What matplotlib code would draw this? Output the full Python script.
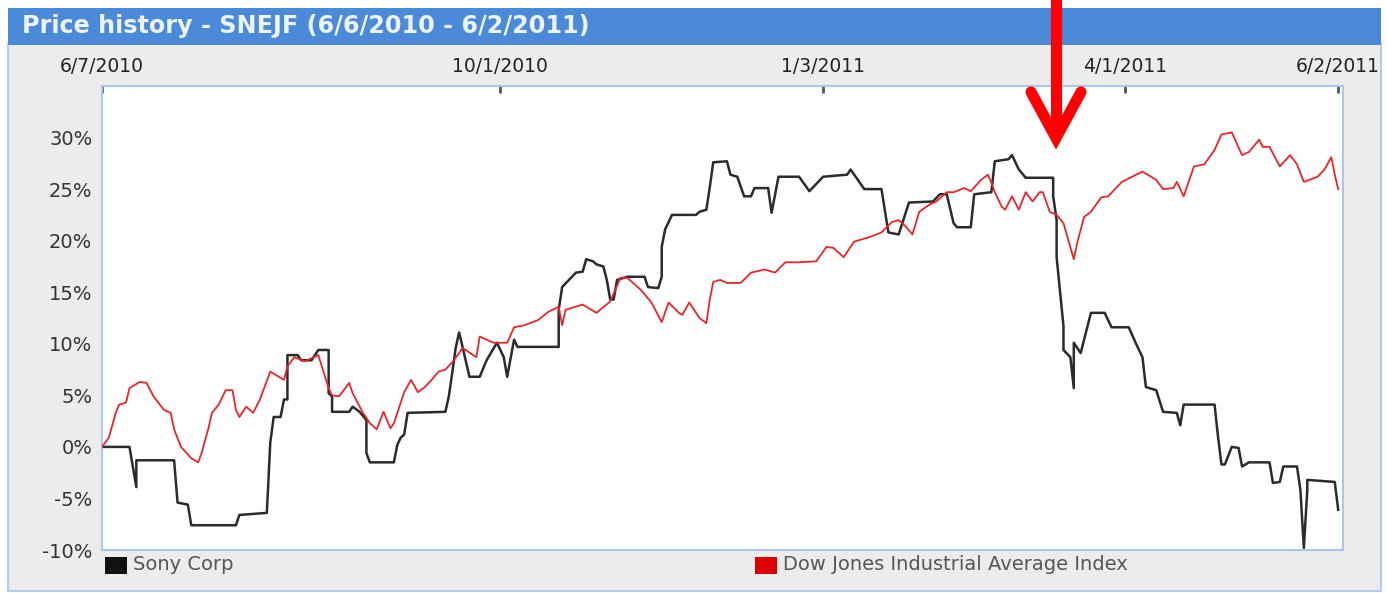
import numpy as np
import matplotlib
matplotlib.use("Agg")
import matplotlib.pyplot as plt
import matplotlib.dates as mdates
from matplotlib.patches import Rectangle
from matplotlib.lines import Line2D

# ---------------- data ----------------
base_date = np.datetime64("2010-06-07")

title = "Price history - SNEJF (6/6/2010 - 6/2/2011)"
tick_dates = ["2010-06-07", "2010-10-01", "2011-01-03", "2011-04-01", "2011-06-02"]
tick_labels = ["6/7/2010", "10/1/2010", "1/3/2011", "4/1/2011", "6/2/2011"]
y_ticks = [-10, -5, 0, 5, 10, 15, 20, 25, 30]
series_names = ["Sony Corp", "Dow Jones Industrial Average Index"]

# Sony Corp: days since 2010-06-07, % change
sony_day = [0, 8, 10, 10, 21, 22, 25, 26, 39, 40, 48, 49, 50, 52, 53, 54, 54, 57, 58, 61,
            63, 66, 66, 67, 67, 72, 73, 75, 77, 77, 78, 85, 86, 87, 88, 89, 100, 101, 102, 103,
            104, 105, 107, 110, 112, 115, 117, 118, 120, 121, 133, 133, 134, 136, 138, 140, 141, 143, 144, 146,
            147, 148, 149, 150, 153, 158, 159, 162, 163, 163, 164, 166, 173, 174, 176, 177, 178, 182, 183, 185,
            187, 189, 190, 194, 195, 197, 203, 206, 210, 217, 218, 222, 227, 229, 232, 235, 242, 244, 246, 248,
            249, 253, 254, 259, 260, 264, 265, 267, 269, 277, 277, 278, 278, 280, 280, 282, 283, 283, 285, 288,
            292, 294, 299, 301, 303, 304, 307, 309, 313, 314, 315, 324, 325, 326, 327, 329, 331, 332, 334, 340,
            341, 343, 344, 348, 349, 350, 351, 351, 359, 360]
sony_pct = [0.0, 0.0, -3.9, -1.3, -1.3, -5.4, -5.6, -7.6, -7.6, -6.6, -6.4, 0.4, 2.9, 2.9, 4.6, 4.6, 8.9, 8.9, 8.4, 8.4,
            9.4, 9.4, 5.2, 4.9, 3.4, 3.4, 3.9, 3.4, 2.6, -0.6, -1.5, -1.5, 0.2, 0.9, 1.2, 3.3, 3.4, 4.9, 7.2, 9.6,
            11.1, 9.7, 6.8, 6.8, 8.4, 10.1, 8.7, 6.8, 10.4, 9.7, 9.7, 13.3, 15.5, 16.2, 16.9, 17.0, 18.2, 18.0, 17.7, 17.5,
            16.2, 14.3, 14.3, 16.2, 16.5, 16.5, 15.5, 15.4, 16.5, 19.4, 21.1, 22.5, 22.5, 22.8, 23.0, 25.2, 27.6, 27.7, 26.4, 26.2,
            24.3, 24.3, 25.1, 25.1, 22.7, 26.2, 26.2, 24.8, 26.2, 26.4, 26.9, 25.0, 25.0, 20.8, 20.6, 23.7, 23.8, 24.5, 24.5, 21.7,
            21.3, 21.3, 24.5, 24.7, 27.7, 27.9, 28.3, 26.9, 26.1, 26.1, 24.3, 22.0, 18.4, 11.7, 9.4, 8.7, 5.7, 10.1, 9.1, 13.0,
            13.0, 11.6, 11.6, 10.1, 8.7, 5.8, 5.5, 3.4, 3.3, 2.1, 4.1, 4.1, 1.0, -1.7, -1.7, 0.0, -0.1, -1.9, -1.5, -1.5,
            -3.5, -3.4, -1.9, -1.9, -4.2, -9.8, -4.2, -3.2, -3.4, -6.1]

# Dow Jones Industrial Average Index: days since 2010-06-07, % change
djia_day = [0, 2, 4, 5, 7, 8, 11, 13, 15, 18, 20, 21, 23, 26, 28, 29, 31, 32, 34, 36,
            38, 39, 40, 42, 44, 46, 47, 49, 53, 54, 56, 59, 61, 63, 66, 67, 69, 72, 73, 76,
            78, 80, 82, 84, 85, 88, 90, 92, 94, 96, 98, 100, 102, 104, 105, 109, 110, 114, 118, 120,
            123, 127, 130, 133, 134, 135, 140, 144, 148, 151, 153, 157, 160, 163, 165, 168, 169, 171, 173, 174,
            176, 177, 178, 180, 182, 186, 189, 193, 196, 199, 203, 208, 211, 213, 216, 219, 224, 227, 230, 232,
            234, 236, 238, 241, 243, 246, 248, 251, 253, 256, 258, 259, 260, 262, 263, 265, 267, 269, 271, 273,
            274, 276, 278, 280, 283, 284, 286, 288, 291, 293, 297, 300, 303, 307, 309, 312, 313, 315, 318, 321,
            324, 326, 329, 332, 334, 337, 338, 340, 343, 346, 348, 350, 354, 356, 358, 359, 360]
djia_pct = [0.0, 0.9, 3.3, 4.1, 4.3, 5.7, 6.3, 6.2, 4.9, 3.6, 3.3, 1.7, 0.0, -1.1, -1.5, -0.6, 1.8, 3.3, 4.1, 5.5,
            5.5, 3.6, 2.9, 3.9, 3.3, 4.6, 5.5, 7.3, 6.5, 7.8, 8.7, 8.3, 8.6, 8.9, 5.7, 5.0, 4.9, 6.2, 5.2, 3.3,
            2.3, 1.7, 3.4, 1.8, 2.3, 5.3, 6.5, 5.3, 5.8, 6.5, 7.3, 7.5, 8.2, 9.1, 9.6, 8.7, 10.7, 10.1, 10.1, 11.6,
            11.8, 12.3, 13.1, 13.6, 11.8, 13.3, 13.8, 13.0, 14.1, 16.4, 16.4, 15.2, 14.0, 12.1, 14.0, 13.0, 12.8, 14.0, 13.0, 12.5,
            12.0, 14.3, 16.0, 16.2, 15.9, 15.9, 16.9, 17.2, 16.9, 17.9, 17.9, 18.0, 19.4, 19.3, 18.4, 19.9, 20.4, 20.8, 21.8, 22.0,
            21.4, 20.6, 22.8, 23.5, 23.8, 24.7, 24.7, 25.1, 24.8, 25.9, 26.4, 25.6, 24.7, 23.3, 23.0, 24.3, 23.0, 24.7, 23.8, 24.7,
            24.7, 22.8, 22.5, 21.7, 18.2, 19.8, 22.3, 22.8, 24.2, 24.3, 25.7, 26.2, 26.7, 25.9, 25.0, 25.1, 25.7, 24.3, 27.2, 27.4,
            28.8, 30.3, 30.5, 28.3, 28.6, 29.8, 29.1, 29.1, 27.2, 28.3, 27.4, 25.7, 26.2, 26.9, 28.1, 26.4, 25.0]

series_colors = ["#2b2b2b", "#e8262a"]

# ---------------- figure ----------------
W, H = 1387, 593
fig = plt.figure(figsize=(W / 100, H / 100), dpi=100)
fig.patch.set_facecolor("white")


def fx(x):
    return x / W


def fy(y):
    return 1 - y / H


# grey panel with light-blue frame
fig.patches.append(Rectangle((fx(8), fy(591)), fx(1381) - fx(8), fy(44) - fy(591),
                             transform=fig.transFigure, facecolor="#ececec",
                             edgecolor="#b4cdee", linewidth=1.5, zorder=-5))
# blue title bar
fig.patches.append(Rectangle((fx(8), fy(45)), fx(1381) - fx(8), fy(8) - fy(45),
                             transform=fig.transFigure, facecolor="#4a8ad9",
                             edgecolor="none", zorder=-4))
fig.text(fx(22), fy(26), title, color="#eef4ff", fontsize=17.2, fontweight="bold",
         va="center", ha="left", zorder=2)

# plot axes
ax = fig.add_axes([fx(102), fy(550), fx(1343) - fx(102), fy(86) - fy(550)])
ax.set_zorder(1)
ax.set_facecolor("white")

sony_dates = base_date + np.array(sony_day).astype("timedelta64[D]")
djia_dates = base_date + np.array(djia_day).astype("timedelta64[D]")

ax.plot(djia_dates, djia_pct, color=series_colors[1], linewidth=1.3, zorder=3)
ax.plot(sony_dates, sony_pct, color=series_colors[0], linewidth=1.8, zorder=2)

xmin = mdates.date2num(np.datetime64("2010-06-07"))
xmax = mdates.date2num(np.datetime64("2011-06-02")) + 1.4
ax.set_xlim(xmin, xmax)
ax.set_ylim(-10, 35)

for s in ax.spines.values():
    s.set_color("#a9c6ee")
    s.set_linewidth(1.5)

ax.xaxis.tick_top()
ax.set_xticks([mdates.date2num(np.datetime64(d)) for d in tick_dates])
ax.set_xticklabels(tick_labels)
ax.tick_params(axis="x", direction="in", length=5, width=2, color="#555555",
               labelsize=13.5, labelcolor="#222222", pad=7)
ax.set_yticks(y_ticks)
ax.set_yticklabels([f"{v}%" for v in y_ticks])
ax.tick_params(axis="y", length=0, labelsize=14, labelcolor="#333333", pad=7)

# legend at bottom
fig.patches.append(Rectangle((fx(105), fy(574)), fx(127) - fx(105), fy(557) - fy(574),
                             transform=fig.transFigure, facecolor="#111111", edgecolor="none", zorder=2))
fig.text(fx(133), fy(565), series_names[0], color="#555555", fontsize=14, va="center", ha="left")
fig.patches.append(Rectangle((fx(755), fy(574)), fx(777) - fx(755), fy(557) - fy(574),
                             transform=fig.transFigure, facecolor="#dd0000", edgecolor="none", zorder=2))
fig.text(fx(783), fy(565), series_names[1], color="#555555", fontsize=14, va="center", ha="left")

# red annotation arrow
arrow_kw = dict(transform=fig.transFigure, color="#ff0000", linewidth=8,
                solid_capstyle="round", solid_joinstyle="miter", zorder=10)
fig.add_artist(Line2D([fx(1056), fx(1056)], [fy(-5), fy(132)], **arrow_kw))
fig.add_artist(Line2D([fx(1031), fx(1056), fx(1081)], [fy(92), fy(138), fy(92)], **arrow_kw))

fig.savefig("out.png", dpi=100, facecolor=fig.get_facecolor())
